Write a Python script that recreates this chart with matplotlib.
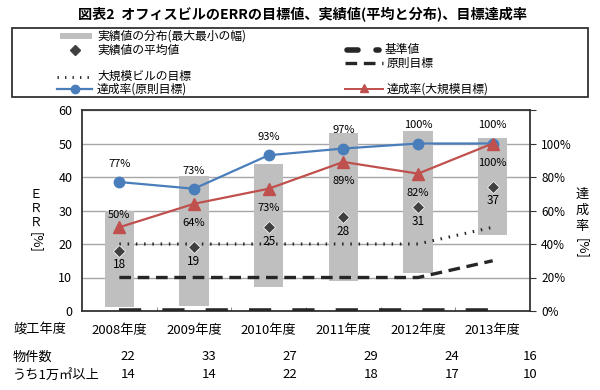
import matplotlib
matplotlib.use("Agg")
import matplotlib.pyplot as plt
from matplotlib.lines import Line2D
from matplotlib.patches import Rectangle
import numpy as np

plt.rcParams['font.family'] = ['Noto Sans CJK JP', 'DejaVu Sans']

# data
years = ['2008年度', '2009年度', '2010年度', '2011年度', '2012年度', '2013年度']
dist_min = [1.2, 1.6, 7.3, 9.0, 11.3, 22.7]
dist_max = [29.8, 40.4, 43.8, 53.2, 53.8, 51.5]
err_avg = [18, 19, 25, 28, 31, 37]
base_value = [0, 0, 0, 0, 0, 0]
target_principle = [10, 10, 10, 10, 10, 15]
target_large = [20, 20, 20, 20, 20, 25]
rate_principle = [77, 73, 93, 97, 100, 100]
rate_large = [50, 64, 73, 89, 82, 100]
n_buildings = [22, 33, 27, 29, 24, 16]
n_large = [14, 14, 22, 18, 17, 10]

BLUE = '#4A7EBB'
RED = '#C0504D'
GRAY = '#BFBFBF'
DARK = '#262626'
DOTTED = (0, (0.5, 2.2))
DASHED = (0, (3.5, 2))

W, H = 600, 390
fig = plt.figure(figsize=(6, 3.9), dpi=100)

def px(x, y):
    return x / W, 1 - y / H

# main axes: x from 82 to 530 px, y from 110 to 311 px
ax = fig.add_axes([82 / W, 1 - 311 / H, 448 / W, 201 / H])
x = np.arange(len(years))

heights = [hi - lo for lo, hi in zip(dist_min, dist_max)]
ax.bar(x, heights, bottom=dist_min, width=0.39, color=GRAY, zorder=2)

ax.plot(x, target_large, color=DARK, lw=2.2, ls=DOTTED, zorder=3)
ax.plot(x, target_principle, color=DARK, lw=2.4, ls=DASHED, zorder=3)
ax.plot(x, base_value, color=DARK, lw=4, ls=(0, (4, 3.8)), zorder=4, clip_on=True)
ax.plot(x, err_avg, ls='none', marker='D', ms=6, color='#404040',
        markeredgecolor='white', markeredgewidth=0.5, zorder=5)
for xi, v in zip(x, err_avg):
    ax.annotate(f'{v}', (xi, v), xytext=(0, -10), textcoords='offset points',
                ha='center', va='center', fontsize=8.5, zorder=6)

ax.set_xlim(-0.5, len(years) - 0.5)
ax.set_ylim(0, 60)
ax.set_yticks(range(0, 61, 10))
ax.tick_params(axis='y', length=0, pad=7, labelsize=9)
ax.set_xticks([])
ax.set_xticks(np.arange(0.5, len(years) - 0.5, 1), minor=True)
ax.tick_params(axis='x', which='minor', direction='in', length=3, color='#777777')
ax.grid(axis='y', color='#A6A6A6', lw=1, zorder=0)
ax.set_axisbelow(True)
for s in ax.spines.values():
    s.set_color('#333333')
    s.set_linewidth(1.3)

ax2 = ax.twinx()
ax2.plot(x, rate_principle, color=BLUE, lw=1.6, marker='o', ms=7.5,
         markerfacecolor=BLUE, markeredgecolor=BLUE, zorder=6)
ax2.plot(x, rate_large, color=RED, lw=1.6, marker='^', ms=8,
         markerfacecolor=RED, markeredgecolor=RED, zorder=6)
for xi, v in zip(x, rate_principle):
    ax2.annotate(f'{v}%', (xi, v), xytext=(0, 13), textcoords='offset points',
                 ha='center', va='center', fontsize=8)
for i, (xi, v) in enumerate(zip(x, rate_large)):
    dy = 8.5 if i == 0 else -14
    ax2.annotate(f'{v}%', (xi, v), xytext=(0, dy), textcoords='offset points',
                 ha='center', va='center', fontsize=8)
ax2.set_ylim(0, 120)
ax2.set_yticks(range(0, 121, 20))
ax2.set_yticklabels([f'{t}%' for t in range(0, 101, 20)] + [''])
ax2.tick_params(axis='y', length=4, pad=4, labelsize=8.5, color='#333333')
for s in ax2.spines.values():
    s.set_visible(False)

# axis titles, stacked vertically
for i, ch in enumerate(['Ｅ', 'Ｒ', 'Ｒ']):
    fig.text(*px(36, 194 + i * 14), ch, ha='center', va='center', fontsize=9)
fig.text(*px(36, 242), '[%]', ha='center', va='center', fontsize=9.5, rotation=-90)
for i, ch in enumerate(['達', '成', '率']):
    fig.text(*px(582, 194 + i * 16), ch, ha='center', va='center', fontsize=9.5)
fig.text(*px(582, 248), '[%]', ha='center', va='center', fontsize=9.5, rotation=-90)

# title
fig.text(*px(302, 15), '図表2  オフィスビルのERRの目標値、実績値(平均と分布)、目標達成率',
         ha='center', va='center', fontsize=10.2, fontweight='bold')

# legend drawn in pixel space
lg = fig.add_axes([0, 0, 1, 1], zorder=-1)
lg.set_xlim(0, W)
lg.set_ylim(H, 0)
lg.axis('off')
lg.add_patch(Rectangle((12, 28), 576, 69, fill=False, edgecolor='#333333', lw=1.3))
lg.add_patch(Rectangle((60, 33), 32, 6, color=GRAY, lw=0))
lg.add_line(Line2D([75], [50], ls='none', marker='D', ms=5, color='#404040'))
lg.add_line(Line2D([57, 92], [77, 77], color=DARK, lw=2, ls=DOTTED))
lg.add_line(Line2D([57, 92], [89, 89], color=BLUE, lw=1.6))
lg.add_line(Line2D([75], [89], ls='none', marker='o', ms=6, color=BLUE))
lg.add_line(Line2D([347, 358], [50, 50], color=DARK, lw=4, solid_capstyle='round'))
lg.add_line(Line2D([376, 379], [50, 50], color=DARK, lw=4, solid_capstyle='round'))
lg.add_line(Line2D([345, 383], [63, 63], color=DARK, lw=2.4, ls=DASHED))
lg.add_line(Line2D([345, 383], [89, 89], color=RED, lw=1.4))
lg.add_line(Line2D([364], [88], ls='none', marker='^', ms=6, color=RED))
leg_kw = dict(ha='left', va='center', fontsize=8.5)
lg.text(97, 36, '実績値の分布(最大最小の幅)', **leg_kw)
lg.text(97, 50, '実績値の平均値', **leg_kw)
lg.text(97, 76, '大規模ビルの目標', **leg_kw)
lg.text(97, 89, '達成率(原則目標)', **leg_kw)
lg.text(385, 50, '基準値', **leg_kw)
lg.text(387, 63, '原則目標', **leg_kw)
lg.text(387, 89, '達成率(大規模目標)', **leg_kw)

# table under the chart
tb_kw = dict(ha='left', va='center', fontsize=9.5)
lg.text(13, 330, '竣工年度', **tb_kw)
lg.text(13, 357, '物件数', **tb_kw)
lg.text(13, 375, 'うち1万㎡以上', **tb_kw)
for xi, label in zip(x, years):
    ax.text(xi, -0.095, label, transform=ax.get_xaxis_transform(),
            ha='center', va='center', fontsize=9.5)
num_x = [128, 209, 290, 371, 452, 530]
for cx, a, b in zip(num_x, n_buildings, n_large):
    lg.text(cx, 357, str(a), ha='center', va='center', fontsize=9.5)
    lg.text(cx, 375, str(b), ha='center', va='center', fontsize=9.5)

fig.savefig('out.png', dpi=100)
